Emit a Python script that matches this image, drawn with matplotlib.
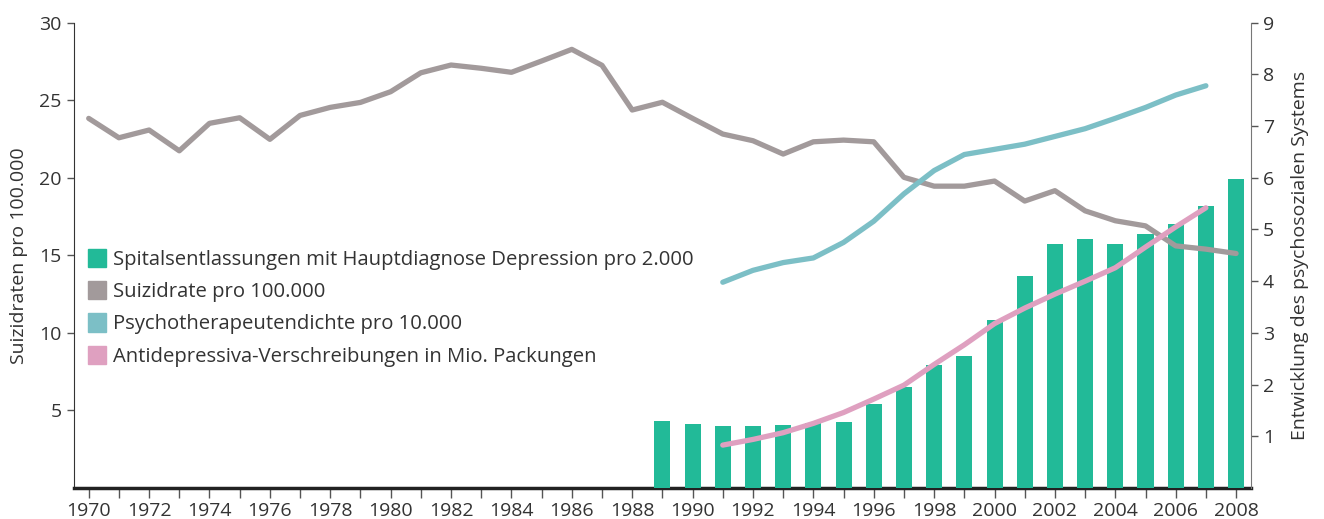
import numpy as np
import matplotlib.pyplot as plt
from matplotlib.patches import Patch

plt.rcParams['font.family'] = ['Open Sans', 'DejaVu Sans']

years = np.arange(1970, 2009)

# Suizidrate pro 100.000 (linke Achse), 1970-2008
suizid = [23.83, 22.58, 23.08, 21.74, 23.51, 23.87, 22.48, 24.02, 24.54, 24.86,
          25.55, 26.77, 27.27, 27.06, 26.80, 27.53, 28.28, 27.25, 24.37, 24.87,
          23.83, 22.82, 22.39, 21.53, 22.32, 22.43, 22.32, 20.03, 19.46, 19.46,
          19.79, 18.50, 19.17, 17.87, 17.23, 16.90, 15.61, 15.40, 15.12]

# Spitalsentlassungen (rechte Achse), 1989-2008
bar_years = np.arange(1989, 2009)
spital = [1.29, 1.23, 1.19, 1.19, 1.21, 1.26, 1.27, 1.62, 1.95, 2.37,
          2.55, 3.24, 4.11, 4.71, 4.82, 4.71, 4.91, 5.10, 5.46, 5.97]

# Psychotherapeutendichte und Antidepressiva (rechte Achse), 1991-2007
line_years = np.arange(1991, 2008)
psycho = [3.98, 4.21, 4.36, 4.45, 4.75, 5.16, 5.69, 6.14, 6.45, 6.55,
          6.65, 6.80, 6.95, 7.15, 7.36, 7.60, 7.78]
antidep = [0.83, 0.94, 1.07, 1.25, 1.46, 1.72, 1.99, 2.39, 2.77, 3.18,
           3.48, 3.75, 4.00, 4.26, 4.66, 5.05, 5.42]

labels = ['Spitalsentlassungen mit Hauptdiagnose Depression pro 2.000',
          'Suizidrate pro 100.000',
          'Psychotherapeutendichte pro 10.000',
          'Antidepressiva-Verschreibungen in Mio. Packungen']

c_green = '#22BA98'
c_grey = '#A29A9B'
c_cyan = '#7CBFC6'
c_pink = '#DFA0C0'
txt = '#333333'

fig = plt.figure(figsize=(13.24, 5.19), dpi=100)
ax = fig.add_axes([0.0556, 0.0597, 0.8894, 0.8966])
ax2 = ax.twinx()

ax2.bar(bar_years, spital, width=0.53, color=c_green, zorder=1)
ax2.plot(line_years, psycho, color=c_cyan, lw=3.8, solid_capstyle='round', zorder=3)
ax2.plot(line_years, antidep, color=c_pink, lw=3.8, solid_capstyle='round', zorder=3)
# suizid uses the left scale but is drawn on top of the bars
ax2.plot(years, suizid, color=c_grey, lw=3.8, solid_capstyle='round', zorder=2,
         transform=ax.transData)

ax.set_xlim(1969.5, 2008.5)
ax.set_ylim(0, 30)
ax2.set_ylim(0, 9)

ax.set_yticks([5, 10, 15, 20, 25, 30])
ax2.set_yticks(range(1, 10))
ax.set_xticks(np.arange(1970, 2009, 2))
ax.set_xticks(np.arange(1970, 2009, 1), minor=True)

for a in (ax, ax2):
    a.spines['top'].set_visible(False)
    a.tick_params(axis='y', labelsize=14, labelcolor=txt, color='#555555', length=5, width=1)
ax.spines['left'].set_color('#333333')
ax.spines['right'].set_visible(False)
ax2.spines['left'].set_visible(False)
ax2.spines['bottom'].set_visible(False)
ax2.spines['right'].set_color('#777777')
ax.spines['bottom'].set_linewidth(2.5)
ax.spines['bottom'].set_color('#222222')
ax.tick_params(axis='x', which='both', length=7, width=1, color='#555555',
               labelsize=14, labelcolor=txt, pad=3)

ax.set_ylabel('Suizidraten pro 100.000', fontsize=14, color=txt, labelpad=8)
ax2.set_ylabel('Entwicklung des psychosozialen Systems', fontsize=14, color=txt, labelpad=12)

handles = [Patch(color=c) for c in (c_green, c_grey, c_cyan, c_pink)]
ax2.legend(handles, labels, loc='upper left', bbox_to_anchor=(0.005, 0.531),
           frameon=False, fontsize=14.6, labelcolor=txt, handlelength=0.9,
           handleheight=1.0, handletextpad=0.35, labelspacing=0.55, borderaxespad=0)

fig.savefig('out.png', dpi=100)
